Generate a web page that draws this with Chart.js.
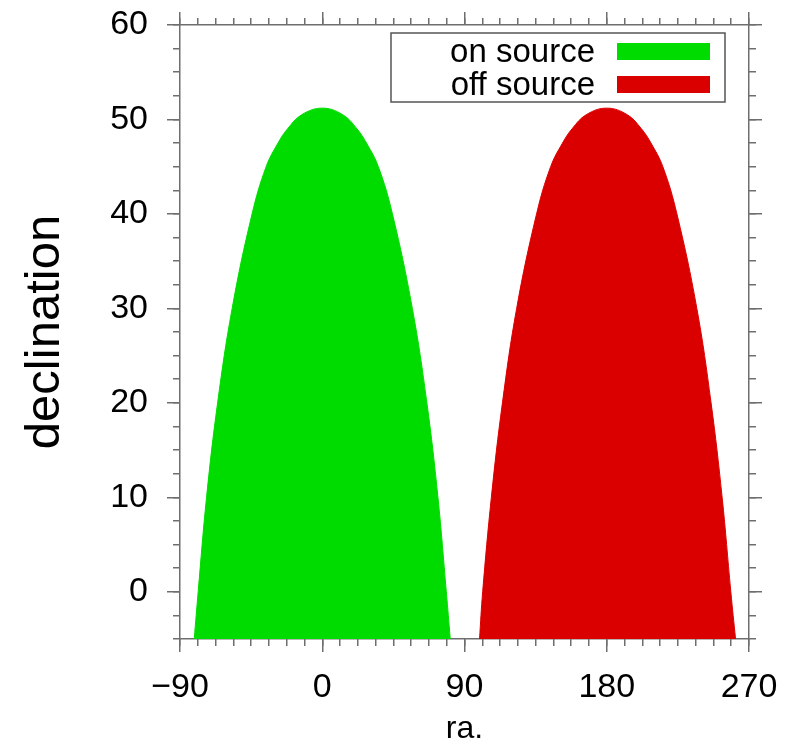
<!DOCTYPE html>
<html>
<head>
<meta charset="utf-8">
<script src="https://cdn.jsdelivr.net/npm/chart.js@4"></script>
<style>
    html, body { margin: 0; padding: 0; background: #fff; }
    canvas { display: block; }
</style>
</head>
<body>
<canvas id="skyChart" width="795" height="755"></canvas>
<script>
// outline of each region: right ascension vs declination (degrees)
const onRa   = [-81, -78.5, -73.2, -66.2, -57, -44.4, -35.5, -28, -22, -13, 0, 13, 22, 28, 35.5, 44.4, 57, 66.2, 73.2, 78.5, 81];
const onDec  = [-5, 0, 10, 20, 30, 40, 45, 47.5, 49, 50.5, 51.2, 50.5, 49, 47.5, 45, 40, 30, 20, 10, 0, -5];
const offRa  = [99.5, 101.5, 107, 114, 123, 135.6, 144.5, 152, 158, 167, 180, 193, 202, 208, 215.5, 224.4, 237, 246, 253, 258.5, 261.5];
const offDec = [-5, 0, 10, 20, 30, 40, 45, 47.5, 49, 50.5, 51.2, 50.5, 49, 47.5, 45, 40, 30, 20, 10, 0, -5];

const xTickLabels = ['\u221290', '0', '90', '180', '270'];
const yTickLabels = ['0', '10', '20', '30', '40', '50', '60'];

const axisColor = '#6e6e6e';
Chart.defaults.font.family = "'Liberation Sans', Arial, sans-serif";
Chart.defaults.color = '#000';

const toPoints = (xs, ys) => xs.map((x, i) => ({ x: x, y: ys[i] }));

// fixed box sizes so the plot area lands where the reference has it
const fixSize = size => scale => {
    if (scale.isHorizontal()) {
        scale.height = size;
    } else {
        scale.width = size;
        scale.paddingTop = 0;
        scale.paddingBottom = 0;
    }
};

// legend drawn inside the plot, text left of the swatch, with a frame
const legendBox = {
    id: 'legendBox',
    afterDraw(chart) {
        const { ctx, chartArea } = chart;
        const right = chartArea.right - 24;
        const top = chartArea.top + 8;
        ctx.save();
        ctx.strokeStyle = '#555';
        ctx.lineWidth = 1.5;
        ctx.strokeRect(right - 334, top, 334, 69);
        ctx.font = "33px 'Liberation Sans', Arial, sans-serif";
        ctx.textAlign = 'right';
        ctx.textBaseline = 'alphabetic';
        chart.data.datasets.forEach((ds, i) => {
            const base = top + 29 + i * 33;
            ctx.fillStyle = '#000';
            ctx.fillText(ds.label, right - 130, base);
            ctx.fillStyle = ds.backgroundColor;
            ctx.fillRect(right - 108, base - 19, 93, 17);
        });
        ctx.restore();
    }
};

function minorAxis(position, min, max, step) {
    return {
        type: 'linear', position: position, min: min, max: max, weight: 0,
        afterFit: fixSize(0),
        border: { display: false },
        grid: { drawOnChartArea: false, color: axisColor, lineWidth: 1.5, tickLength: 7 },
        ticks: { display: false, stepSize: step, autoSkip: false, includeBounds: false }
    };
}

function plainMajorAxis(position, min, max, step, size) {
    return {
        type: 'linear', position: position, min: min, max: max, weight: 1,
        afterFit: fixSize(size),
        border: { color: axisColor, width: 1.5 },
        grid: { drawOnChartArea: false, color: axisColor, lineWidth: 1.5, tickLength: 13 },
        ticks: { display: false, stepSize: step, autoSkip: false, includeBounds: false }
    };
}

new Chart(document.getElementById('skyChart'), {
    type: 'line',
    data: {
        datasets: [
            {
                label: 'on source',
                data: toPoints(onRa, onDec),
                backgroundColor: '#00dc00',
                borderColor: '#00dc00',
                borderWidth: 1,
                fill: 'start',
                pointRadius: 0,
                tension: 0.4,
                xAxisID: 'x', yAxisID: 'y'
            },
            {
                label: 'off source',
                data: toPoints(offRa, offDec),
                backgroundColor: '#db0000',
                borderColor: '#db0000',
                borderWidth: 1,
                fill: 'start',
                pointRadius: 0,
                tension: 0.4,
                xAxisID: 'x', yAxisID: 'y'
            }
        ]
    },
    options: {
        responsive: false,
        animation: false,
        layout: { padding: 0 },
        plugins: {
            legend: { display: false },
            tooltip: { enabled: false }
        },
        scales: {
            x: {
                type: 'linear', position: 'bottom', min: -90, max: 270, weight: 1,
                afterFit: fixSize(116),
                border: { color: axisColor, width: 1.5 },
                grid: { drawOnChartArea: false, color: axisColor, lineWidth: 1.5, tickLength: 13 },
                ticks: {
                    stepSize: 90, autoSkip: false, maxRotation: 0, padding: 15,
                    font: { size: 34 },
                    callback: (v, i) => xTickLabels[i]
                },
                title: { display: true, text: 'ra.', font: { size: 32 }, padding: { top: 0, bottom: 7 } }
            },
            xMinor: minorAxis('bottom', -90, 270, 11.25),
            xTop: plainMajorAxis('top', -90, 270, 90, 25),
            xTopMinor: minorAxis('top', -90, 270, 11.25),
            y: {
                type: 'linear', position: 'left', min: -5, max: 60, weight: 1,
                afterFit: fixSize(180),
                border: { color: axisColor, width: 1.5 },
                grid: { drawOnChartArea: false, color: axisColor, lineWidth: 1.5, tickLength: 13 },
                ticks: {
                    stepSize: 10, autoSkip: false, includeBounds: false, padding: 19,
                    font: { size: 34 },
                    callback: (v, i) => yTickLabels[i]
                },
                title: { display: true, text: 'declination', font: { size: 49 }, padding: { top: 16, bottom: 0 } }
            },
            yMinor: minorAxis('left', -5, 60, 2.5),
            yRight: plainMajorAxis('right', -5, 60, 10, 46),
            yRightMinor: minorAxis('right', -5, 60, 2.5)
        }
    },
    plugins: [legendBox]
});
</script>
</body>
</html>
